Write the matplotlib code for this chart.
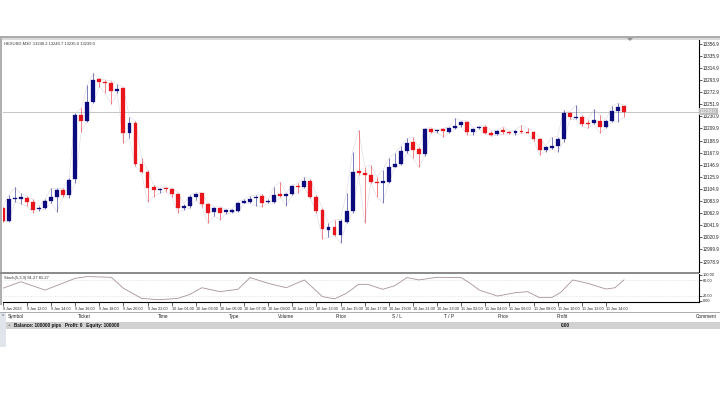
import matplotlib
matplotlib.use("Agg")
import matplotlib.pyplot as plt
from matplotlib.patches import Rectangle, Polygon
import matplotlib.transforms as mtransforms

plt.rcParams['font.family'] = ['Liberation Sans', 'DejaVu Sans']

W, H = 720, 405

# ---- data (30 min candles) ----
opens = [13071.4, 13050.0, 13087.0, 13088.1, 13089.9, 13082.9, 13069.6, 13072.5, 13084.7, 13090.5,
         13103.2, 13094.5, 13121.7, 13233.3, 13223.5, 13256.5, 13295.2, 13291.2, 13289.5, 13275.0,
         13279.6, 13202.7, 13220.0, 13147.7, 13135.0, 13109.0, 13102.6, 13107.2, 13104.3, 13096.2,
         13071.4, 13075.4, 13090.5, 13097.4, 13078.3, 13065.6, 13071.4, 13065.0, 13065.6, 13067.3,
         13081.2, 13082.9, 13088.7, 13092.8, 13081.8, 13082.9, 13095.7, 13092.8, 13096.2, 13110.1,
         13109.0, 13119.4, 13091.6, 13068.5, 13033.8, 13039.5, 13025.1, 13048.2, 13067.3, 13136.2,
         13132.1, 13129.2, 13117.6, 13114.8, 13117.6, 13143.7, 13147.7, 13170.9, 13187.1, 13173.8,
         13165.7, 13209.1, 13205.0, 13208.5, 13204.4, 13210.8, 13216.0, 13221.8, 13204.4, 13210.2,
         13213.1, 13202.7, 13199.8, 13206.7, 13203.8, 13202.7, 13205.6, 13204.4, 13203.3, 13191.7,
         13172.6, 13175.5, 13180.1, 13191.7, 13236.2, 13228.1, 13230.5, 13220.0, 13218.9, 13223.5,
         13211.9, 13222.9, 13240.3, 13249.0]
highs = [13074.3, 13094.5, 13107.8, 13097.4, 13092.8, 13087.0, 13075.4, 13087.0, 13106.1, 13106.1,
         13106.1, 13123.4, 13236.2, 13244.9, 13285.4, 13305.7, 13297.0, 13294.1, 13292.9, 13287.1,
         13281.4, 13229.3, 13223.5, 13158.1, 13137.9, 13111.9, 13106.1, 13109.0, 13106.7, 13098.6,
         13078.9, 13094.5, 13098.6, 13098.6, 13080.0, 13074.3, 13074.3, 13070.2, 13070.2, 13082.9,
         13087.0, 13092.8, 13094.5, 13095.7, 13087.0, 13109.0, 13117.6, 13097.4, 13111.9, 13114.8,
         13126.3, 13121.7, 13094.5, 13071.4, 13045.3, 13051.1, 13052.3, 13098.6, 13169.7, 13207.3,
         13143.7, 13146.6, 13126.3, 13137.9, 13158.1, 13166.8, 13179.5, 13192.9, 13194.6, 13177.2,
         13210.2, 13211.4, 13207.3, 13210.2, 13213.1, 13227.6, 13223.5, 13223.5, 13211.4, 13214.3,
         13215.4, 13206.2, 13207.3, 13213.1, 13205.0, 13207.3, 13216.0, 13210.2, 13205.6, 13194.0,
         13179.5, 13194.6, 13195.7, 13242.0, 13239.1, 13250.7, 13233.3, 13224.7, 13243.2, 13233.3,
         13224.7, 13249.5, 13253.6, 13250.7]
lows = [13048.2, 13048.2, 13082.9, 13078.9, 13075.4, 13063.8, 13067.3, 13070.2, 13081.2, 13065.6,
        13091.6, 13089.9, 13115.9, 13204.4, 13221.8, 13254.8, 13282.5, 13271.0, 13252.4, 13271.0,
        13184.2, 13192.9, 13144.8, 13132.1, 13082.9, 13091.6, 13097.4, 13100.3, 13091.6, 13063.8,
        13068.5, 13071.4, 13085.8, 13074.3, 13045.3, 13058.1, 13051.1, 13061.5, 13063.8, 13065.6,
        13080.0, 13080.0, 13076.0, 13074.3, 13080.0, 13080.0, 13090.5, 13076.0, 13094.5, 13098.6,
        13107.2, 13088.7, 13063.8, 13017.6, 13021.0, 13023.4, 13011.8, 13046.5, 13063.8, 13129.2,
        13045.3, 13115.9, 13091.6, 13081.2, 13115.9, 13142.5, 13146.0, 13168.0, 13158.1, 13142.5,
        13162.8, 13202.7, 13202.7, 13195.7, 13201.5, 13209.6, 13213.1, 13198.6, 13198.6, 13208.5,
        13200.4, 13196.9, 13198.1, 13200.4, 13200.4, 13198.6, 13201.5, 13201.5, 13188.8, 13163.9,
        13169.7, 13173.8, 13169.7, 13187.1, 13225.8, 13225.8, 13214.3, 13210.2, 13217.7, 13201.5,
        13210.2, 13221.2, 13221.8, 13229.3]
closes = [13050.0, 13087.0, 13088.7, 13090.5, 13082.9, 13068.5, 13072.5, 13084.1, 13090.5, 13103.2,
          13094.5, 13120.5, 13233.3, 13223.5, 13256.5, 13294.1, 13291.2, 13289.5, 13275.6, 13279.0,
          13202.7, 13220.0, 13147.7, 13135.0, 13107.2, 13103.2, 13104.3, 13104.3, 13096.2, 13071.4,
          13075.4, 13091.6, 13096.2, 13078.3, 13063.8, 13071.4, 13063.8, 13067.9, 13068.5, 13081.2,
          13084.1, 13087.0, 13091.6, 13081.2, 13084.1, 13094.5, 13092.8, 13095.7, 13110.1, 13107.8,
          13118.8, 13091.6, 13067.3, 13034.9, 13039.5, 13025.1, 13049.4, 13067.3, 13135.0, 13132.1,
          13129.2, 13117.6, 13114.8, 13118.8, 13143.7, 13148.3, 13170.9, 13185.3, 13172.6, 13165.7,
          13209.1, 13204.4, 13206.2, 13205.6, 13210.2, 13214.8, 13221.2, 13204.4, 13209.1, 13213.1,
          13202.7, 13199.2, 13205.6, 13203.3, 13202.1, 13205.0, 13203.8, 13202.7, 13191.7, 13172.6,
          13177.2, 13180.1, 13191.7, 13236.2, 13229.3, 13230.5, 13217.7, 13217.7, 13224.7, 13213.1,
          13222.9, 13240.3, 13247.8, 13239.1]

# stochastic line, sampled at bar positions
stoch_bar = [0, 3, 7, 12, 14, 18, 20, 23, 26, 29, 31, 33, 36, 39, 41, 44, 47, 50, 53, 55, 57,
             59, 60.5, 63, 65, 67, 69, 72, 76, 77.5, 79, 82, 85, 87, 89, 91, 92.5, 94.5, 97,
             100, 101.5, 103]
stoch_val = [49, 74, 42, 87, 94, 91, 49, 10, 5, 10, 25, 51, 36, 45, 90, 68, 51, 81, 17, 8, 30,
             64, 64, 45, 59, 90, 81, 91, 90, 68, 42, 19, 32, 36, 13, 13, 33, 81, 68,
             46, 51, 81.27]

price_ticks = [12978.9, 12999.9, 13020.9, 13041.9, 13062.9, 13083.9, 13104.9, 13125.9, 13146.9,
               13167.9, 13188.9, 13209.9, 13230.9, 13251.9, 13272.9, 13293.9, 13314.9, 13335.9,
               13356.9]
last_price = 13239.0

time_labels = ["9 Jan 2023", "9 Jan 12:00", "9 Jan 14:00", "9 Jan 16:00", "9 Jan 18:00",
               "9 Jan 20:00", "9 Jan 22:00", "10 Jan 01:00", "10 Jan 03:00", "10 Jan 05:00",
               "10 Jan 07:00", "10 Jan 09:00", "10 Jan 11:00", "10 Jan 13:00", "10 Jan 15:00",
               "10 Jan 17:00", "10 Jan 19:00", "10 Jan 21:00", "10 Jan 23:00", "11 Jan 02:00",
               "11 Jan 04:00", "11 Jan 06:00", "11 Jan 08:00", "11 Jan 10:00", "11 Jan 12:00",
               "11 Jan 14:00"]
time_label_bars = [4 * k for k in range(len(time_labels))]

table_cols = ["Symbol", "Ticket", "Time", "Type", "Volume", "Price", "S / L", "T / P",
              "Price", "Profit", "Comment"]
table_col_x = [8, 78, 158, 229, 278, 336, 392, 444, 498, 557, 717]

UP = '#0b0b7e'
DOWN = '#e8161c'


def px_rect(x0, y0, x1, y1):
    return [x0 / W, 1 - y1 / H, (x1 - x0) / W, (y1 - y0) / H]


fig = plt.figure(figsize=(7.2, 4.05), dpi=100)
fig.patch.set_facecolor('white')

# background / frame in pixel coords
bg = fig.add_axes([0, 0, 1, 1])
bg.set_xlim(0, W)
bg.set_ylim(H, 0)
bg.axis('off')
bg.add_patch(Rectangle((0, 35.5), W, 2.5, color='#ababab', lw=0))
bg.add_patch(Rectangle((0, 38), W, 2, color='#dadada', lw=0))
bg.add_patch(Rectangle((0, 38), 2.2, 267, color='#b0b0b0', lw=0))
bg.add_patch(Polygon([[627, 38], [633, 38], [630, 41]], color='#909090', lw=0))
bg.add_patch(Rectangle((0, 271.5), 698.5, 2.5, color='#8c8c8c', lw=0))

# terminal table
bg.plot([0, W], [311.5, 311.5], color='#a0a0a0', lw=0.6)
bg.plot([6, W], [321.5, 321.5], color='#d0d0d0', lw=0.5)
bg.add_patch(Rectangle((6, 321.8), W - 6, 7.2, color='#d2d2d2', lw=0))
bg.add_patch(Rectangle((0, 311.8), 6, 35.5, color='#e0e5eb', lw=0))
bg.text(3, 314.8, 'x', fontsize=2.8, ha='center', va='center', color='#404040')
for name, x in zip(table_cols, table_col_x):
    bg.text(x, 316.8, name, fontsize=3.4, va='center',
            ha='right' if name == 'Comment' else 'left', color='#202020')
bg.text(8, 325.4, '+', fontsize=3.2, va='center', color='#303030')
bg.text(14, 325.4, 'Balance: 100000 pips   Profit: 0   Equity: 100000', fontsize=3.3,
        va='center', fontweight='bold', color='#101010')
bg.text(561, 325.4, '0.00', fontsize=3.3, va='center', fontweight='bold', color='#101010')

# main candlestick chart
ax = fig.add_axes(px_rect(2.5, 40, 698.5, 271.5))
ax.patch.set_visible(False)
n = len(closes)
idx = list(range(n))
ax.set_xlim(-0.05, 115.35)
ax.set_ylim(12961.7, 13363.5)

ax.axhline(last_price, color='#c4c4c4', lw=0.7, zorder=1)
ax.plot(idx, highs, color='#d9d2e2', lw=0.35, zorder=1)
ax.plot(idx, lows, color='#d9d2e2', lw=0.35, zorder=1)

for i in idx:
    o, h, l, c = opens[i], highs[i], lows[i], closes[i]
    col = UP if c >= o else DOWN
    ax.vlines(i, l, h, color=col, lw=0.5, alpha=0.75, zorder=2)
    bottom = min(o, c)
    height = max(abs(c - o), 1.8)
    ax.bar(i, height, bottom=bottom, width=0.64, color=col, edgecolor=col, lw=0.2, zorder=3)

for s in ['top', 'left', 'bottom']:
    ax.spines[s].set_visible(False)
ax.spines['right'].set_linewidth(0.8)
ax.set_xticks([])
ax.yaxis.tick_right()
ax.set_yticks(price_ticks)
ax.set_yticklabels([f'{v:.1f}' for v in price_ticks])
ax.tick_params(axis='y', length=2, width=0.5, pad=1, labelsize=3.3, colors='#202020')

tr = mtransforms.blended_transform_factory(ax.transAxes, ax.transData)
ax.text(1.002, last_price, f'{last_price:.1f}', transform=tr, fontsize=3.3, va='center',
        ha='left', color='white', zorder=5,
        bbox=dict(boxstyle='square,pad=0.25', fc='#bcbcbc', ec='none'))
ax.text(0.002, 0.995, 'HEXUSD,M30  13240.2 13240.7 13235.0 13239.0', transform=ax.transAxes,
        fontsize=3.0, va='top', ha='left', color='#303030')

# stochastic panel
ax2 = fig.add_axes(px_rect(2.5, 274, 698.5, 302.3))
ax2.patch.set_visible(False)
ax2.set_xlim(-0.05, 115.35)
ax2.set_ylim(-5, 103.8)
ax2.axhline(80, color='#c8c8c8', lw=0.4, ls=':')
ax2.axhline(20, color='#c8c8c8', lw=0.4, ls=':')
ax2.plot(stoch_bar, stoch_val, color='#a8929a', lw=0.6)
ax2.text(0.002, 0.93, 'Stoch(5,3,3) 81.27 81.27', transform=ax2.transAxes, fontsize=3.0,
         va='top', ha='left', color='#303030')
for s in ['top', 'left']:
    ax2.spines[s].set_visible(False)
ax2.spines['right'].set_linewidth(0.8)
ax2.spines['bottom'].set_linewidth(0.8)
ax2.yaxis.tick_right()
ax2.set_yticks([0, 20, 80, 100])
ax2.set_yticklabels(['0.00', '20.00', '80.00', '100.00'])
ax2.tick_params(axis='y', length=2, width=0.5, pad=1, labelsize=2.8, colors='#202020')
ax2.set_xticks(time_label_bars)
ax2.set_xticklabels(time_labels, ha='left')
ax2.tick_params(axis='x', length=3, width=0.5, pad=0.6, labelsize=2.7, colors='#202020')

fig.savefig('out.png', dpi=100)
